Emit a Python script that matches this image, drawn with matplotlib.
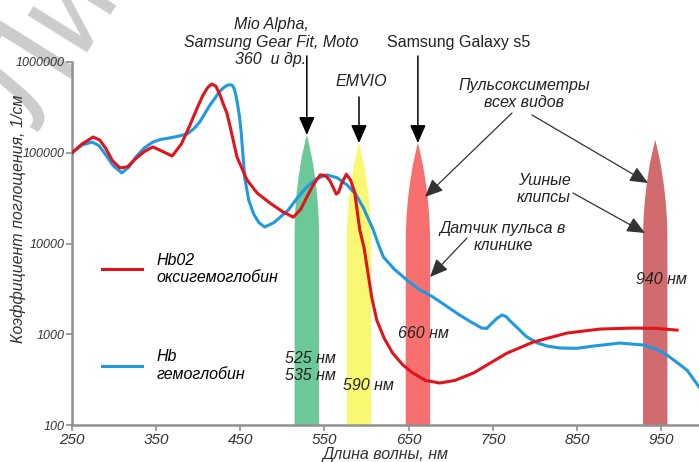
import numpy as np
import matplotlib.pyplot as plt
from matplotlib.path import Path
from matplotlib.patches import PathPatch

plt.rcParams['font.family'] = ['Liberation Sans', 'DejaVu Sans']

# oxyhemoglobin (HbO2)
hbo2_nm = [250, 262, 275, 283, 290, 298, 307, 316, 325, 336, 346, 358, 369, 380,
           390, 398, 405, 411, 416, 421, 426, 430, 434, 438, 446, 458, 470, 485,
           500, 513, 522, 529, 537, 545, 551, 556, 560, 564, 567, 570, 576, 581,
           586, 592, 597, 601, 606, 612, 621, 631, 643, 655, 670, 687, 705, 727,
           745, 767, 798, 838, 877, 917, 945, 969]
hbo2_val = [100000, 125000, 149000, 138000, 112000, 82000, 68000, 70000, 85000,
            103000, 116000, 103000, 92000, 125000, 200000, 300000, 420000, 520000,
            573000, 540000, 430000, 340000, 274000, 192000, 90000, 50000, 36000,
            28000, 22500, 19500, 24000, 32500, 45000, 57000, 56000, 50000, 42000,
            35000, 37000, 45000, 58000, 50000, 36000, 14000, 9000, 5200, 2600,
            1440, 900, 620, 460, 374, 310, 290, 310, 374, 470, 620, 820, 1030,
            1140, 1170, 1160, 1110]

# deoxyhemoglobin (Hb)
hb_nm = [250, 262, 274, 282, 290, 299, 309, 318, 326, 336, 346, 355, 365, 376,
         387, 395, 402, 408, 414, 420, 425, 430, 435, 439, 441, 443, 445, 447,
         449, 451, 452, 454, 455, 458, 460, 466, 472, 479, 490, 507, 518, 529,
         541, 553, 565, 577, 587, 596, 608, 614, 620, 633, 648, 663, 679, 693,
         707, 722, 737, 743, 748, 755, 761, 766, 770, 782, 790, 803, 815, 830,
         850, 869, 901, 929, 945, 957, 970, 981, 995]
hb_val = [100000, 122000, 131000, 120000, 95000, 72000, 60000, 70000, 90000,
          113000, 131000, 140000, 145000, 152000, 161000, 185000, 220000, 272000,
          336000, 400000, 470000, 520000, 558000, 560000, 545000, 500000, 420000,
          330000, 250000, 170000, 128000, 75000, 55000, 38000, 30000, 21000, 17000,
          15200, 17000, 23400, 32000, 42000, 52000, 57000, 53000, 44000, 35000,
          25000, 14100, 9800, 7100, 5200, 3960, 3100, 2570, 2100, 1710, 1400, 1170,
          1160, 1300, 1500, 1630, 1560, 1420, 1110, 940, 800, 740, 705, 700, 740,
          800, 760, 680, 590, 480, 400, 263]

# LED bands used by the devices
band_nm = [529, 591, 661, 943]
band_top = [157000, 128000, 128000, 138000]
band_colors = ['#6cc897', '#f9f872', '#f76f6f', '#d26b6e']
band_labels = [('525 нм\n535 нм', 310, 95), ('590 нм', 368, 77),
               ('660 нм', 423, 129), ('940 нм', 661, 182)]

xticks = [250, 350, 450, 550, 650, 750, 850, 950]
yticks = [100, 1000, 10000, 100000, 1000000]
ytick_labels = ['100', '1000', '10000', '100000', '1000000']

W, H = 699, 462
fig = plt.figure(figsize=(W / 100, H / 100), dpi=100)
ax = fig.add_axes([72 / W, 37 / H, 627 / W, 363 / H])
ax.set_yscale('log')
ax.set_xlim(250, 995)
ax.set_ylim(100, 1000000)

# watermark
fig.text(50 / W, 1 - 45 / H, 'Ли', fontsize=95, rotation=58, color='#cccccc',
         ha='center', va='center', zorder=-1)

hw = 14.5
for c, top, col in zip(band_nm, band_top, band_colors):
    mid = top / 10 ** 1.1
    verts = [(c - hw, 100), (c - hw, mid),
             (c - hw, top / 10 ** 0.55), (c - hw * 0.25, top / 10 ** 0.12), (c, top),
             (c + hw * 0.25, top / 10 ** 0.12), (c + hw, top / 10 ** 0.55), (c + hw, mid),
             (c + hw, 100), (c - hw, 100)]
    codes = [Path.MOVETO, Path.LINETO,
             Path.CURVE4, Path.CURVE4, Path.CURVE4,
             Path.CURVE4, Path.CURVE4, Path.CURVE4,
             Path.LINETO, Path.CLOSEPOLY]
    ax.add_patch(PathPatch(Path(verts, codes), facecolor=col, edgecolor='none', zorder=1))

ax.plot(hb_nm, hb_val, color='#1f9ae0', lw=2.2, zorder=3, solid_joinstyle='round',
        label='Hb\nгемоглобин')
ax.plot(hbo2_nm, hbo2_val, color='#e0141a', lw=2.2, zorder=4, solid_joinstyle='round',
        label='Hb02\nоксигемоглобин')

for side in ['top', 'right']:
    ax.spines[side].set_visible(False)
for side in ['left', 'bottom']:
    ax.spines[side].set_color('#909090')
    ax.spines[side].set_linewidth(1.8)

ax.set_xticks(xticks)
ax.set_xticklabels([str(v) for v in xticks], fontsize=11, fontstyle='italic', color='#333333')
ax.set_yticks(yticks)
ax.set_yticklabels(ytick_labels, fontsize=9, fontstyle='italic', color='#333333')
ax.minorticks_off()
ax.tick_params(axis='both', color='#909090', length=4, width=1.2)
ax.tick_params(axis='x', pad=2)
ax.tick_params(axis='y', pad=1)

fig.text(385 / W, 7 / H, 'Длина волны, нм', fontsize=11.5, fontstyle='italic',
         color='#333333', ha='center', va='center')
fig.text(18 / W, 1 - 219 / H, 'Коэффициент поглощения, 1/см', fontsize=11.5,
         fontstyle='italic', color='#333333', ha='center', va='center', rotation=90)

handles, labels = ax.get_legend_handles_labels()
ax.legend(handles[::-1], labels[::-1], loc='center left', frameon=False,
          bbox_to_anchor=(16 / 627, 0.297), handlelength=2.5,
          handletextpad=0.9, labelspacing=4.0, prop={'style': 'italic', 'size': 11.5})

txt = dict(fontsize=11.5, color='#222222', ha='center', va='center',
           xycoords='figure pixels', linespacing=1.2)
ax.annotate('Mio Alpha,\nSamsung Gear Fit, Moto\n360  и др.', (271, H - 42),
            fontstyle='italic', **txt)
ax.annotate('EMVIO', (361, H - 82), fontstyle='italic', **txt)
ax.annotate('Samsung Galaxy s5', (459, H - 42), **txt)
ax.annotate('Пульсоксиметры\nвсех видов', (524, H - 94), fontstyle='italic', **txt)
ax.annotate('Ушные\nклипсы', (544, H - 189), fontstyle='italic', **txt)
ax.annotate('Датчик пульса в\nклинике', (503, H - 237), fontstyle='italic', **txt)
for s, x, y in band_labels:
    ax.annotate(s, (x, y), fontstyle='italic', **txt)

arrow = dict(arrowstyle='-|>,head_length=0.5,head_width=0.22', color='black', lw=1.1,
             shrinkA=0, shrinkB=0, mutation_scale=22)
for i, y0 in [(0, 56), (1, 97), (2, 56)]:
    ax.annotate('', xy=(band_nm[i], band_top[i]), xycoords='data',
                xytext=(band_nm[i], H - y0), textcoords=('data', 'figure pixels'),
                arrowprops=arrow)

thin = dict(arrowstyle='-|>,head_length=0.5,head_width=0.22', color='#333333', lw=0.9,
            shrinkA=0, shrinkB=0, mutation_scale=22)
for (x0, y0), (x1, y1) in [((512, 113), (425, 197)), ((532, 115), (648, 183)),
                           ((573, 193), (645, 233)), ((467, 238), (430, 277))]:
    ax.annotate('', xy=(x1, H - y1), xycoords='figure pixels', xytext=(x0, H - y0),
                textcoords='figure pixels', arrowprops=thin)

fig.savefig('out.png', dpi=100)
